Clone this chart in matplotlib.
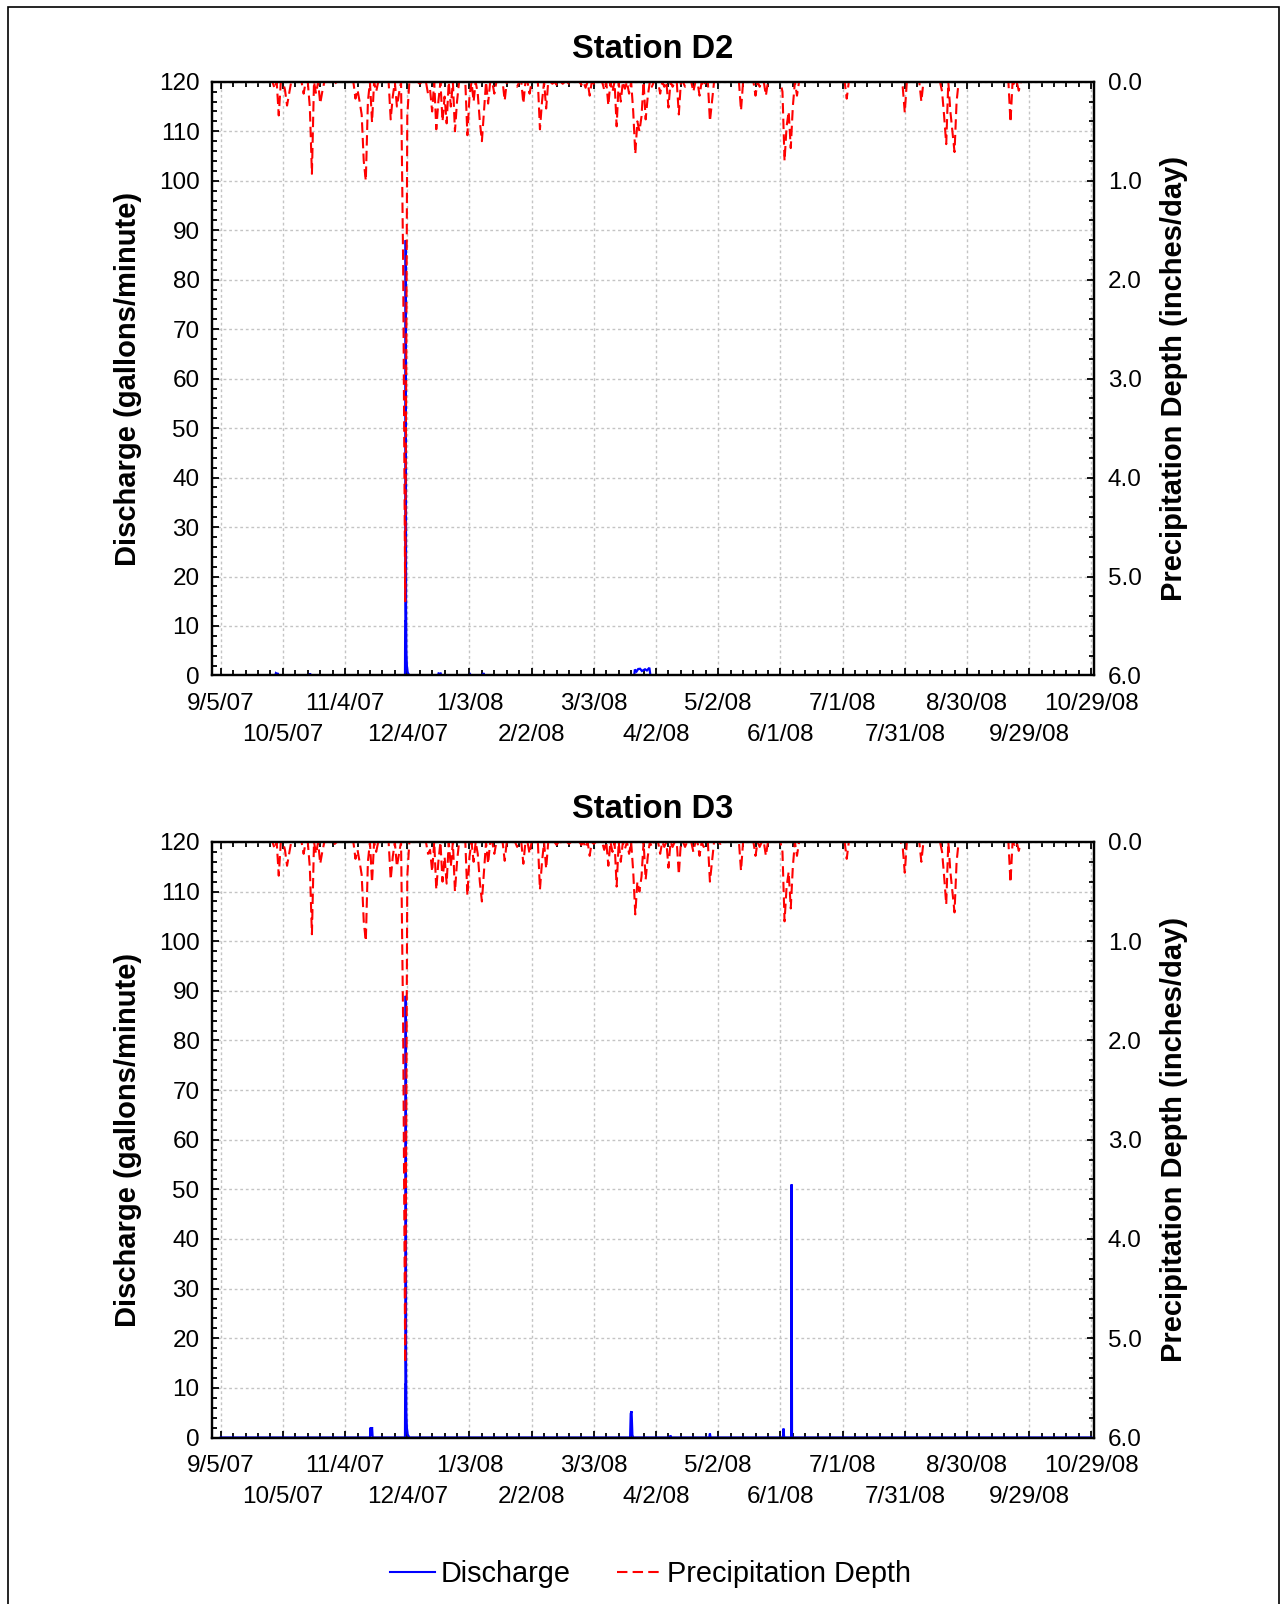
import numpy as np
import matplotlib
matplotlib.use('Agg')
from matplotlib import pyplot as plt
from matplotlib.ticker import MultipleLocator, FormatStrFormatter
from matplotlib.lines import Line2D
from matplotlib.patches import Rectangle

plt.rcParams['font.family'] = ['Liberation Sans', 'DejaVu Sans']

# x values are days after 9/5/07
tick_days = list(range(0, 421, 30))
tick_labels = ['9/5/07', '10/5/07', '11/4/07', '12/4/07', '1/3/08', '2/2/08', '3/3/08',
               '4/2/08', '5/2/08', '6/1/08', '7/1/08', '7/31/08', '8/30/08', '9/29/08',
               '10/29/08']

# daily precipitation (inches/day), rainy days only
rain_day = [26, 28, 31, 32, 33, 40, 43, 44, 46, 48, 49, 55, 65, 66, 67, 68, 69, 70, 71,
            73, 75, 82, 83, 85, 86, 88, 89, 90, 96, 100, 101, 102, 104, 105, 107, 108,
            109, 111, 113, 114, 119, 120, 122, 124, 125, 126, 127, 129, 132, 137, 143,
            146, 149, 154, 155, 157, 160, 162, 165, 168, 174, 176, 178, 180, 185, 187,
            189, 191, 193, 195, 197, 199, 200, 201, 202, 203, 205, 206, 208, 212, 214,
            216, 218, 221, 224, 228, 231, 233, 236, 237, 241, 251, 258, 260, 263, 271,
            272, 273, 274, 275, 276, 278, 302, 329, 330, 338, 348, 349, 350, 352, 353,
            354, 355, 381, 383, 385]
rain_in = [0.07, 0.34, 0.08, 0.24, 0.12, 0.12, 0.26, 0.93, 0.12, 0.22, 0.10, 0.02, 0.17,
           0.08, 0.20, 0.33, 0.80, 1.00, 0.20, 0.41, 0.10, 0.38, 0.15, 0.25, 0.12, 1.82,
           5.25, 0.35, 0.02, 0.12, 0.08, 0.30, 0.48, 0.20, 0.40, 0.15, 0.42, 0.25, 0.50,
           0.20, 0.54, 0.15, 0.20, 0.12, 0.40, 0.60, 0.30, 0.22, 0.12, 0.19, 0.05, 0.22,
           0.12, 0.48, 0.20, 0.27, 0.02, 0.03, 0.02, 0.02, 0.03, 0.06, 0.14, 0.02, 0.08,
           0.24, 0.10, 0.45, 0.20, 0.07, 0.12, 0.30, 0.73, 0.40, 0.50, 0.35, 0.38, 0.15,
           0.05, 0.12, 0.05, 0.26, 0.05, 0.33, 0.05, 0.10, 0.14, 0.05, 0.40, 0.20, 0.02,
           0.29, 0.14, 0.05, 0.14, 0.10, 0.80, 0.45, 0.30, 0.67, 0.25, 0.14, 0.17, 0.05,
           0.31, 0.20, 0.10, 0.35, 0.63, 0.30, 0.50, 0.71, 0.20, 0.41, 0.03, 0.09]

# discharge (gallons/minute)
d2_day = [0, 26.3, 26.6, 27.0, 27.4, 27.8, 42.8, 43.1, 43.5, 88.9, 89.0, 89.1, 89.25,
          89.4, 89.55, 89.8, 90.2, 91.0, 104.8, 105.1, 105.6, 106.1, 106.5, 120.1, 120.4,
          120.7, 126.4, 126.7, 127.1, 199.5, 199.8, 200.6, 201.4, 202.3, 203.2, 204.7,
          205.6, 206.8, 207.3, 420]
d2_gpm = [0, 0, 0.4, 0.2, 0.5, 0, 0, 0.4, 0, 0, 10.9, 10.9, 88.0, 14.0, 5.0, 2.0, 0.6, 0,
          0, 0.4, 0.3, 0.4, 0, 0, 0.2, 0, 0, 0.5, 0, 0, 1.2, 0.8, 1.3, 1.35, 0.9, 1.25, 1.0,
          1.55, 0, 0]
d3_day = [0, 72.0, 72.3, 72.6, 73.0, 73.3, 88.9, 89.0, 89.1, 89.25, 89.4, 89.55, 89.8,
          90.2, 91.0, 197.5, 197.8, 198.2, 198.6, 199.0, 216.7, 217.0, 217.3, 235.7, 236.0,
          236.3, 271.2, 271.5, 271.8, 275.2, 275.4, 275.6, 420]
d3_gpm = [0, 0, 2.0, 0.3, 2.1, 0, 0, 10.6, 10.6, 89.0, 15.0, 5.0, 2.0, 0.6, 0, 0, 4.8, 5.3,
          0.5, 0, 0, 0.4, 0, 0, 0.8, 0, 0, 1.8, 0, 0, 51.0, 0, 0]

days = np.arange(0, 421)
precip = np.zeros(len(days))
precip[rain_day] = rain_in

fig = plt.figure(figsize=(12.88, 16.04), dpi=100)
fig.patches.append(Rectangle((0.0064, -0.01), 0.9866, 1.0055, transform=fig.transFigure,
                             fill=False, edgecolor='black', linewidth=1.2))

panels = [('Station D2', d2_day, d2_gpm, 0.5789, 0.3701),
          ('Station D3', d3_day, d3_gpm, 0.1038, 0.3713)]
for title, qd, qv, bottom, height in panels:
    ax = fig.add_axes([0.1646, bottom, 0.6848, height])
    ax.plot(qd, qv, color='blue', lw=1.6, solid_joinstyle='miter')
    ax.set_xlim(-4.2, 421.3)
    ax.set_ylim(0, 120)
    ax.set_xticks(tick_days)
    ax.set_xticklabels([t if i % 2 == 0 else '' for i, t in enumerate(tick_labels)])
    ax.xaxis.set_minor_locator(MultipleLocator(6))
    ax.yaxis.set_major_locator(MultipleLocator(10))
    ax.yaxis.set_minor_locator(MultipleLocator(2))
    ax.grid(True, which='major', color='#c4c4c4', linestyle=(0, (2, 2)), lw=1)
    ax.tick_params(which='both', direction='in', top=True, right=False, width=1.3,
                   labelsize=17.5)
    ax.tick_params(which='major', length=5)
    ax.tick_params(which='minor', length=3.5)
    ax.tick_params(axis='x', pad=12.8)
    ax.tick_params(axis='y', pad=9)
    for s in ax.spines.values():
        s.set_linewidth(1.6)
    ax.set_title(title, fontsize=23.5, fontweight='bold', pad=17)
    ax.set_ylabel('Discharge (gallons/minute)', fontsize=21, fontweight='bold', va='center')
    ax.yaxis.set_label_coords(-0.095, 0.5)

    # second row of date labels
    sec = ax.secondary_xaxis('bottom')
    sec.set_xticks(tick_days[1::2], labels=tick_labels[1::2])
    sec.tick_params(length=0, pad=34.8, labelsize=17.5)
    sec.spines['bottom'].set_visible(False)

    ax2 = ax.twinx()
    ax2.plot(days, precip, color='red', lw=1.5, dashes=(5, 2.5))
    ax2.set_ylim(6, 0)
    ax2.yaxis.set_major_locator(MultipleLocator(1))
    ax2.yaxis.set_minor_locator(MultipleLocator(0.2))
    ax2.yaxis.set_major_formatter(FormatStrFormatter('%.1f'))
    ax2.tick_params(which='both', direction='in', width=1.3, labelsize=17.5, pad=10)
    ax2.tick_params(which='major', length=5)
    ax2.tick_params(which='minor', length=3.5)
    for s in ax2.spines.values():
        s.set_linewidth(1.6)
    ax2.set_ylabel('Precipitation Depth (inches/day)', fontsize=21, fontweight='bold',
                   va='center', rotation=90)
    ax2.yaxis.set_label_coords(1.0907, 0.5)

handles = [Line2D([], [], color='blue', lw=1.5),
           Line2D([], [], color='red', lw=1.5, dashes=(5, 2.5))]
fig.legend(handles, ['Discharge', 'Precipitation Depth'], loc='center',
           bbox_to_anchor=(0.505, 0.0186), ncol=2, frameon=False, fontsize=20.8,
           handlelength=1.56, handletextpad=0.18, columnspacing=1.6)

fig.savefig('out.png', dpi=100)
